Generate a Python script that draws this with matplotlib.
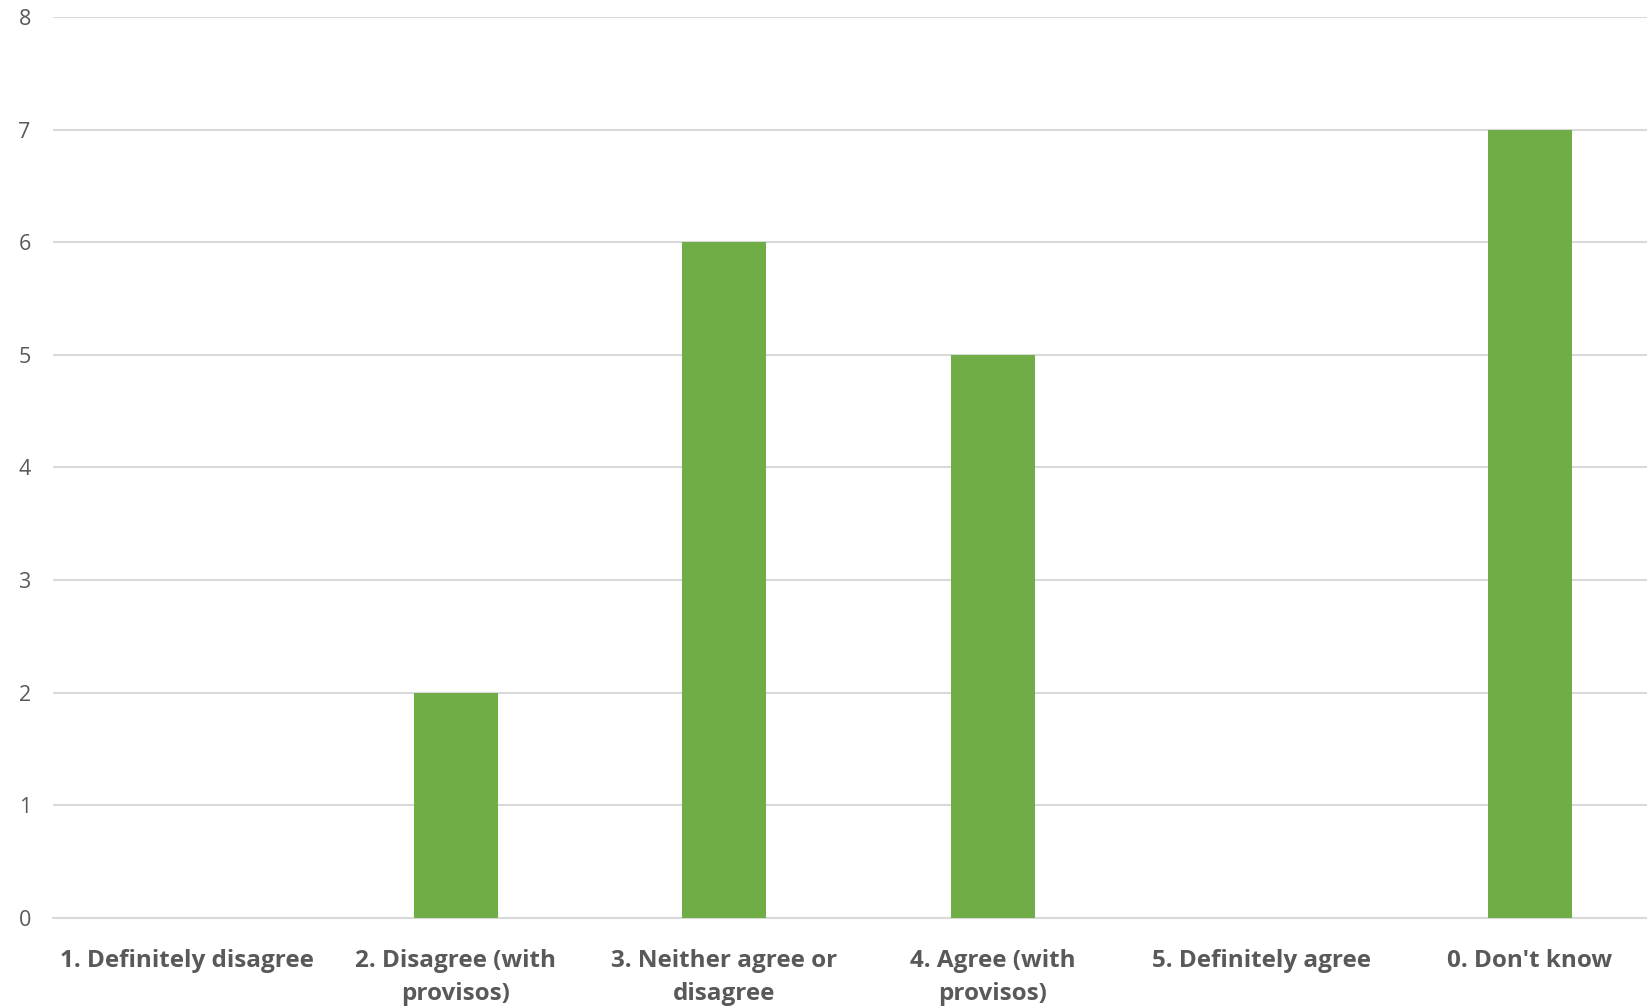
import matplotlib.pyplot as plt

categories = ["1. Definitely disagree", "2. Disagree (with\nprovisos)", "3. Neither agree or\ndisagree",
              "4. Agree (with\nprovisos)", "5. Definitely agree", "0. Don't know"]
counts = [0, 2, 6, 5, 0, 7]
y_ticks = [0, 1, 2, 3, 4, 5, 6, 7, 8]

plt.rcParams["font.family"] = ["Open Sans", "DejaVu Sans"]

fig = plt.figure(figsize=(16.47, 10.06), dpi=100)
ax = fig.add_axes([0.0322, 0.0875, 0.978, 0.8956])

x = range(len(categories))
ax.bar(x, counts, width=0.313, color="#70AD47", zorder=3)

ax.set_xlim(-0.5, len(categories) - 0.5)
ax.set_ylim(0, 8)
ax.set_yticks(y_ticks)
ax.set_xticks(list(x))
ax.set_xticklabels(categories, fontsize=17.5, fontweight="bold", color="#595959", linespacing=1.5)
ax.tick_params(axis="y", labelsize=15.5, labelcolor="#595959", length=0, pad=16)
ax.tick_params(axis="x", length=0, pad=22)

ax.grid(axis="y", color="#d9d9d9", linewidth=1.5, zorder=0)
for s in ["top", "right", "left"]:
    ax.spines[s].set_visible(False)
ax.spines["bottom"].set_color("#d9d9d9")
ax.spines["bottom"].set_linewidth(1.5)

fig.savefig("out.png", dpi=100)
